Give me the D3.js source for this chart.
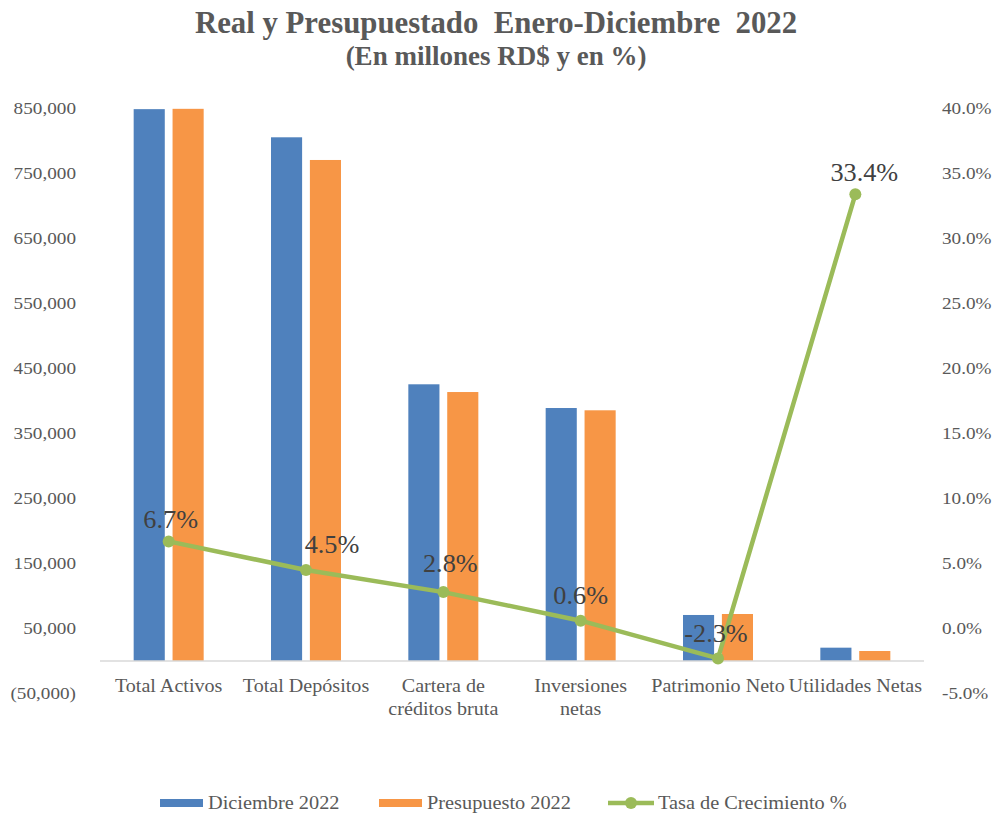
<!DOCTYPE html>
<html>
<head>
<meta charset="utf-8">
<script src="https://cdn.jsdelivr.net/npm/d3@7"></script>
<style>
  html, body { margin: 0; padding: 0; background: #fff; }
  svg { display: block; }
  text { font-family: "Liberation Serif", "Times New Roman", serif; }
</style>
</head>
<body>
<svg id="chart" width="999" height="814" font-family="Liberation Serif, Times New Roman, serif"></svg>
<script>
// ---- data ----
const categories = ["Total Activos", "Total Depósitos", "Cartera de\ncréditos bruta", "Inversiones\nnetas", "Patrimonio Neto", "Utilidades Netas"];
const seriesNames = ["Diciembre 2022", "Presupuesto 2022"];
const diciembre2022 = [849000, 805700, 425700, 389200, 70800, 20500];
const presupuesto2022 = [849500, 770800, 413800, 385700, 72300, 15400];
const tasaCrecimiento = [6.7, 4.5, 2.8, 0.6, -2.3, 33.4];
const lineName = "Tasa de Crecimiento %";
const leftTicks = [-50000, 50000, 150000, 250000, 350000, 450000, 550000, 650000, 750000, 850000];
const rightTicks = [-5, 0, 5, 10, 15, 20, 25, 30, 35, 40];
const titleLines = ["Real y Presupuestado  Enero-Diciembre  2022", "(En millones RD$ y en %)"];

// ---- layout / style ----
const W = 999, H = 814;
const plot = { left: 100, right: 924, top: 108.5, bottom: 693.5 };
const colors = ["#4F81BD", "#F79646"];
const lineColor = "#9BBB59";
const textColor = "#595959";
const SX = 1.13; // horizontal stretch of the reference's text
const hyphen = s => s.replace("\u2212", "-");

const svg = d3.select("#chart");
svg.append("rect").attr("width", W).attr("height", H).attr("fill", "#fff");

const x = d3.scaleBand().domain(categories).range([plot.left, plot.right]).padding(0);
const x1 = d3.scaleBand().domain(seriesNames)
  .range([x.bandwidth() / 2 - 35, x.bandwidth() / 2 + 35]).paddingInner(0.2);
const yL = d3.scaleLinear().domain([-50000, 850000]).range([plot.bottom, plot.top]);
const yR = d3.scaleLinear().domain([-5, 40]).range([plot.bottom, plot.top]);

function stretched(sel, tx, ty, sx = SX) {
  return sel.attr("transform", `translate(${tx},${ty}) scale(${sx},1)`);
}

// title
const title = svg.append("g").attr("fill", textColor).attr("font-weight", "bold").attr("text-anchor", "middle");
stretched(title.append("text").text(titleLines[0]).attr("font-size", 30.8).style("white-space", "pre"), 496, 33, 1);
stretched(title.append("text").text(titleLines[1]).attr("font-size", 27), 496, 65, 1);

// left axis
const fmtL = v => v < 0 ? "(" + d3.format(",")(-v) + ")" : d3.format(",")(v);
const gL = svg.append("g").attr("transform", `translate(${plot.left},0)`)
  .call(d3.axisLeft(yL).tickValues(leftTicks).tickFormat(fmtL).tickSize(0));
gL.attr("font-family", "Liberation Serif, Times New Roman, serif");
gL.select(".domain").remove();
gL.selectAll("text").attr("x", -24 / SX).attr("transform", `scale(${SX},1)`)
  .attr("font-size", 17).attr("fill", textColor);

// right axis
const gR = svg.append("g").attr("transform", `translate(${plot.right},0)`)
  .call(d3.axisRight(yR).tickValues(rightTicks).tickFormat(v => hyphen(d3.format(".1f")(v)) + "%").tickSize(0));
gR.attr("font-family", "Liberation Serif, Times New Roman, serif");
gR.select(".domain").remove();
gR.selectAll("text").attr("x", 18 / SX).attr("transform", `scale(${SX},1)`)
  .attr("font-size", 17).attr("fill", textColor);

// bars
const rows = categories.map((c, i) => ({ cat: c, vals: [diciembre2022[i], presupuesto2022[i]] }));
const groups = svg.append("g").selectAll("g").data(rows).join("g")
  .attr("transform", d => `translate(${x(d.cat)},0)`);
groups.selectAll("rect").data(d => d.vals.map((v, j) => ({ v, s: seriesNames[j], j }))).join("rect")
  .attr("x", d => x1(d.s))
  .attr("width", x1.bandwidth())
  .attr("y", d => yL(Math.max(0, d.v)))
  .attr("height", d => Math.abs(yL(d.v) - yL(0)))
  .attr("fill", d => colors[d.j]);

// category axis line
svg.append("line").attr("x1", plot.left).attr("x2", plot.right)
  .attr("y1", yL(0)).attr("y2", yL(0)).attr("stroke", "#D9D9D9").attr("stroke-width", 1.5);

// category labels
const catG = svg.append("g").attr("fill", textColor).attr("text-anchor", "middle").attr("font-size", 17.8);
categories.forEach(c => {
  c.split("\n").forEach((line, k) => {
    stretched(catG.append("text").text(line), x(c) + x.bandwidth() / 2, 692 + k * 23);
  });
});

// line series
const cx = i => x(categories[i]) + x.bandwidth() / 2;
const line = d3.line().x((d, i) => cx(i)).y(d => yR(d));
svg.append("path").datum(tasaCrecimiento).attr("d", line)
  .attr("fill", "none").attr("stroke", lineColor).attr("stroke-width", 4.5)
  .attr("stroke-linejoin", "round").attr("stroke-linecap", "round");
svg.append("g").selectAll("circle").data(tasaCrecimiento).join("circle")
  .attr("cx", (d, i) => cx(i)).attr("cy", d => yR(d)).attr("r", 6).attr("fill", lineColor);

// data labels (manually placed in the reference)
const labelOffset = [[2, -13], [26, -17], [7, -20], [0, -17], [-2, -16], [9, -13]];
const lblG = svg.append("g").attr("fill", "#404040").attr("text-anchor", "middle").attr("font-size", 25);
tasaCrecimiento.forEach((v, i) => {
  stretched(lblG.append("text").text(hyphen(d3.format(".1f")(v)) + "%"), cx(i) + labelOffset[i][0], yR(v) + labelOffset[i][1], 1.05);
});

// legend
const leg = svg.append("g").attr("font-family", "Liberation Serif, Times New Roman, serif");
const legY = 803;
const legItems = [
  { name: seriesNames[0], type: "bar", color: colors[0], x0: 160 },
  { name: seriesNames[1], type: "bar", color: colors[1], x0: 379 },
  { name: lineName, type: "line", color: lineColor, x0: 608 }
];
legItems.forEach(it => {
  if (it.type === "bar") {
    leg.append("rect").attr("x", it.x0).attr("y", legY - 4).attr("width", 43).attr("height", 8).attr("fill", it.color);
  } else {
    leg.append("line").attr("x1", it.x0).attr("x2", it.x0 + 46).attr("y1", legY).attr("y2", legY)
      .attr("stroke", it.color).attr("stroke-width", 4.5);
    leg.append("circle").attr("cx", it.x0 + 23).attr("cy", legY).attr("r", 6).attr("fill", it.color);
  }
  stretched(leg.append("text").text(it.name).attr("font-size", 18).attr("fill", textColor), it.x0 + (it.type === "bar" ? 48 : 50), legY + 6);
});
</script>
</body>
</html>
